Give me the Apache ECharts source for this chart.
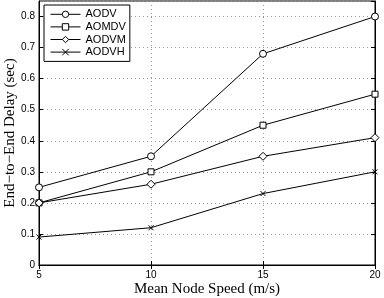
<!DOCTYPE html>
<html>
<head>
<meta charset="utf-8">
<script src="https://cdn.jsdelivr.net/npm/echarts@6/dist/echarts.min.js"></script>
<style>
  html, body { margin: 0; padding: 0; background: #fff; }
  #chart { width: 384px; height: 298px; }
</style>
</head>
<body>
<div id="chart"></div>
<script>
// mean node speed (m/s)
var speeds = [5, 10, 15, 20];
// end-to-end delay (sec)
var aodv  = [0.25, 0.35, 0.68, 0.80];
var aomdv = [0.20, 0.30, 0.45, 0.55];
var aodvm = [0.20, 0.26, 0.35, 0.41];
var aodvh = [0.09, 0.12, 0.23, 0.30];

var seriesNames = ['AODV', 'AOMDV', 'AODVM', 'AODVH'];
var seriesData = [aodv, aomdv, aodvm, aodvh];
var symbols = ['circle', 'rect', 'diamond', 'path://M0,0L10,10M10,0L0,10'];
var symbolSizes = [7, 6, 8, 5];

var tickFont = { fontFamily: 'Liberation Sans', fontSize: 10, color: '#000' };
var titleFont = { fontFamily: 'Liberation Serif', fontSize: 15, color: '#000' };

function pairs(ys) {
  return ys.map(function (y, i) { return [speeds[i], y]; });
}

var myChart = echarts.init(document.getElementById('chart'));

var series = seriesNames.map(function (name, i) {
  return {
    name: name,
    type: 'line',
    data: pairs(seriesData[i]),
    symbol: symbols[i],
    symbolSize: symbolSizes[i],
    showAllSymbol: true,
    lineStyle: { color: '#000', width: 1 },
    itemStyle: { color: '#fff', borderColor: '#000', borderWidth: 1 },
    emphasis: { disabled: true },
    animation: false
  };
});

myChart.setOption({
  animation: false,
  grid: {
    left: 39, right: 9, top: 1, bottom: 33,
    outerBoundsMode: 'none', containLabel: false,
    show: true, borderColor: '#000', borderWidth: 1
  },
  legend: {
    orient: 'vertical',
    left: 44,
    top: 5,
    data: seriesNames,
    itemWidth: 30,
    itemHeight: 8,
    itemGap: 0,
    padding: [3, 4, 3, 6],
    borderColor: '#000',
    borderWidth: 1,
    backgroundColor: '#fff',
    lineStyle: { width: 1, color: '#000' },
    itemStyle: { borderWidth: 1, color: '#fff', borderColor: '#000' },
    textStyle: { fontFamily: 'Liberation Sans', fontSize: 11, color: '#000', lineHeight: 12.6 }
  },
  xAxis: [{
    type: 'value',
    min: 5, max: 20, interval: 5,
    name: 'Mean Node Speed (m/s)',
    nameLocation: 'middle',
    nameGap: 17,
    nameMoveOverlap: false,
    nameTextStyle: titleFont,
    axisLine: { show: true, lineStyle: { color: '#000' } },
    axisTick: { inside: true, length: 4, lineStyle: { color: '#000' } },
    axisLabel: Object.assign({ margin: 5 }, tickFont),
    splitLine: { show: true, lineStyle: { color: '#999', type: [1, 3] } }
  }, {
    type: 'value', position: 'top',
    min: 5, max: 20, interval: 5,
    axisLine: { show: true, lineStyle: { color: '#000' } },
    axisTick: { inside: true, length: 4, lineStyle: { color: '#000' } },
    axisLabel: { show: false },
    splitLine: { show: false }
  }],
  yAxis: [{
    type: 'value',
    min: 0, max: 0.85, interval: 0.1,
    name: 'End\u2212to\u2212End Delay (sec)',
    nameLocation: 'middle',
    nameGap: 21,
    nameMoveOverlap: false,
    nameTextStyle: titleFont,
    axisLine: { show: true, lineStyle: { color: '#000' } },
    axisTick: { inside: true, length: 4, lineStyle: { color: '#000' } },
    axisLabel: Object.assign({
      margin: 4,
      showMaxLabel: false,
      formatter: function (v) { return v > 0.81 ? '' : String(Math.round(v * 10) / 10); }
    }, tickFont),
    splitLine: { show: true, lineStyle: { color: '#999', type: [1, 3] } }
  }, {
    type: 'value', position: 'right',
    min: 0, max: 0.85, interval: 0.1,
    axisLine: { show: true, lineStyle: { color: '#000' } },
    axisTick: { inside: true, length: 4, lineStyle: { color: '#000' } },
    axisLabel: { show: false },
    splitLine: { show: false }
  }],
  series: series
});
</script>
</body>
</html>
